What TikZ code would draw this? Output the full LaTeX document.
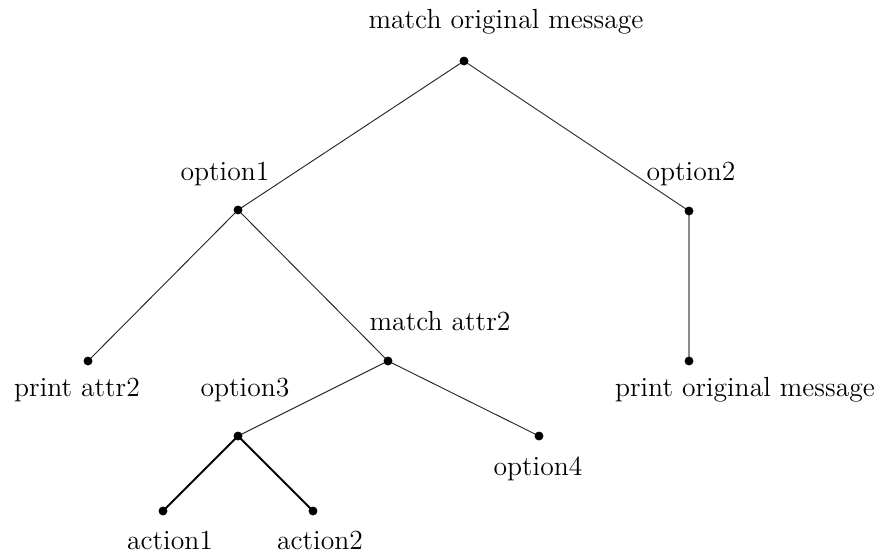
\documentclass[tikz,border=0pt]{standalone}
\begin{document}
\begin{tikzpicture}[x=0.015cm,y=-0.015cm,
  dot/.style={circle,fill=black,inner sep=0pt,minimum size=3.8pt},
  lbl/.style={inner sep=0pt,anchor=base,font=\fontsize{11.8}{14}\selectfont},
  edge/.style={line width=0.4pt,draw=black!85},
  thickedge/.style={line width=0.8pt},
  greyedge/.style={line width=1pt,draw=black!45}]
\useasboundingbox (0,0) rectangle (881,554);
% edges drawn first so that dots sit on top
\coordinate (root) at (464,61);
\coordinate (o1) at (238,210);
\coordinate (o2) at (689,211);
\coordinate (pa) at (88,361);
\coordinate (ma) at (388,361);
\coordinate (po) at (689,361);
\coordinate (o3) at (238,436);
\coordinate (o4) at (539,436);
\coordinate (a1) at (163,511);
\coordinate (a2) at (313,511);
\draw[edge] (root) -- (o1);
\draw[edge] (root) -- (o2);
\draw[edge] (o1) -- (pa);
\draw[edge] (o1) -- (ma);
\draw[greyedge] (o2) -- (po);
\draw[edge] (ma) -- (o3);
\draw[edge] (ma) -- (o4);
\draw[thickedge] (o3) -- (a1);
\draw[thickedge] (o3) -- (a2);
% dots
\node[dot] (droot) at (root) {};
\node[dot] (do1) at (o1) {};
\node[dot] (do2) at (o2) {};
\node[dot] (dpa) at (pa) {};
\node[dot] (dma) at (ma) {};
\node[dot] (dpo) at (po) {};
\node[dot] (do3) at (o3) {};
\node[dot] (do4) at (o4) {};
\node[dot] (da1) at (a1) {};
\node[dot] (da2) at (a2) {};
% labels
\node[lbl] (lroot) at (506,28) {match original message};
\node[lbl] (lo1) at (225,180) {option1};
\node[lbl] (lo2) at (691,180) {option2};
\node[lbl] (lma) at (440,330) {match attr2};
\node[lbl] (lpa) at (77,396) {print attr2};
\node[lbl] (lo3) at (245,396) {option3};
\node[lbl] (lpo) at (745,396) {print original message};
\node[lbl] (lo4) at (538,475) {option4};
\node[lbl] (la1) at (170,549) {action1};
\node[lbl] (la2) at (320,549) {action2};
\end{tikzpicture}
\end{document}
